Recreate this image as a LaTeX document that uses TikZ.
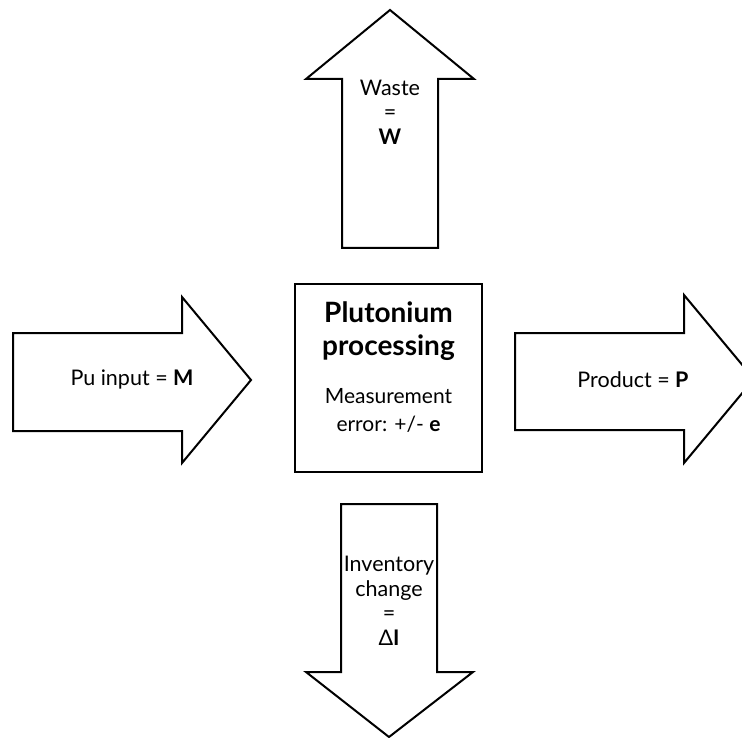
\documentclass[tikz,border=0pt]{standalone}
\usepackage{fontspec}
\setmainfont{Lato}
\begin{document}
\begin{tikzpicture}[x=1pt,y=-1pt,
  arrowshape/.style={draw=black,line width=2pt,line join=miter,fill=white},
  lbl/.style={align=center,font=\fontsize{21.5}{24.5}\selectfont,inner sep=0pt},
  procbox/.style={draw=black,line width=2pt,minimum width=187pt,minimum height=188pt,inner sep=0pt}
]
\clip (0,0) rectangle (742,738);
\fill[white] (0,0) rectangle (742,738);
% up arrow (waste)
\draw[arrowshape] (342,248) -- (342,79) -- (306,79) -- (390,10) -- (474,79) -- (438,79) -- (438,248) -- cycle;
% left arrow (input)
\draw[arrowshape] (13,333) -- (182,333) -- (182,297) -- (251,380) -- (182,463) -- (182,431) -- (13,431) -- cycle;
% right arrow (product)
\draw[arrowshape] (515,333) -- (684,333) -- (684,295) -- (754,379) -- (684,463) -- (684,430) -- (515,430) -- cycle;
% down arrow (inventory)
\draw[arrowshape] (341,504) -- (437,504) -- (437,672) -- (473,672) -- (389,737) -- (306,672) -- (341,672) -- cycle;
% central box
\node[procbox] (box) at (388.5,378) {};
\node[align=center,inner sep=0pt,font=\fontsize{28}{33}\selectfont\bfseries] (title) at (388.5,331) {Plutonium\\processing};
\node[align=center,inner sep=0pt,font=\fontsize{21}{28}\selectfont] (meas) at (388.5,410) {Measurement\\error: +/- \textbf{e}};
% labels
\node[lbl] (waste) at (390,112) {Waste\\=\\\textbf{W}};
\node[lbl] (input) at (132,380) {Pu input = \textbf{M}};
\node[lbl] (product) at (633,380) {Product = \textbf{P}};
\node[lbl] (inventory) at (389,601) {Inventory\\change\\=\\Δ\textbf{I}};
\end{tikzpicture}
\end{document}
